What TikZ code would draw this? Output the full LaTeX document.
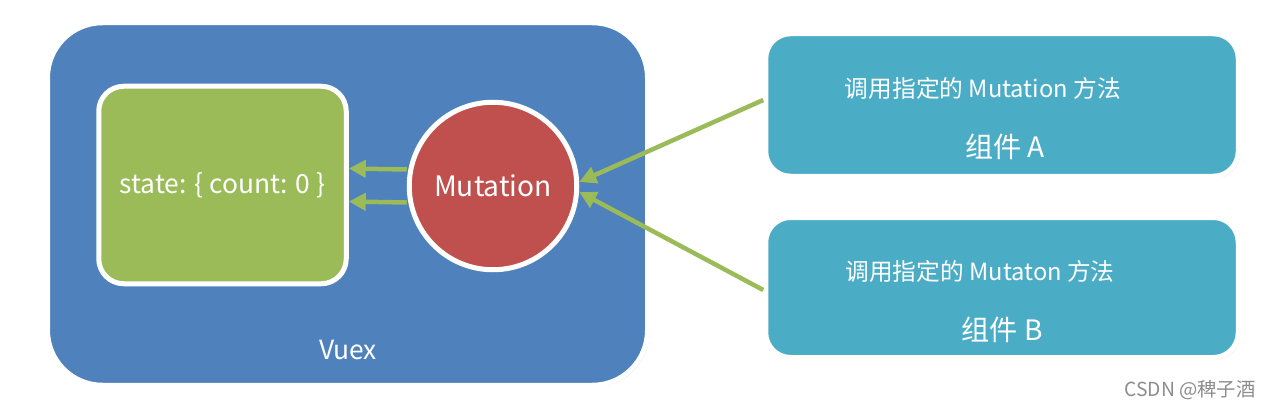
\documentclass[tikz,border=0pt]{standalone}
\usepackage{fontspec}
\setmainfont{Noto Sans CJK SC}
\usepackage{tikz}
\usetikzlibrary{arrows.meta,shadows}
\usepackage{xcolor}

\definecolor{vuexblue}{HTML}{4F81BD}
\definecolor{stategreen}{HTML}{9BBB59}
\definecolor{mutred}{HTML}{C0504D}
\definecolor{compcyan}{HTML}{4BACC6}

\tikzset{
  panel/.style={draw=white, line width=0.1cm, rounded corners=#1,
    drop shadow={shadow xshift=0.04cm, shadow yshift=-0.04cm, opacity=0.25}},
  wtext/.style={text=white, inner sep=0pt},
  callarrow/.style={draw=stategreen, line width=0.09cm, -{Triangle[length=0.34cm,width=0.34cm]}}
}

\begin{document}
\begin{tikzpicture}
  \useasboundingbox (0,0) rectangle (25.22,8.22);

  % Vuex container
  \node[panel=1.1cm, fill=vuexblue, minimum width=12.0cm, minimum height=7.25cm]
    (vuex) at (6.95,4.14) {};
  \node[wtext, font=\fontsize{15}{18}\selectfont] (vuexlbl) at (6.96,1.22) {Vuex};

  % state box
  \node[panel=0.5cm, fill=stategreen, minimum width=4.95cm, minimum height=3.95cm,
    wtext, font=\fontsize{15}{18}\selectfont] (state) at (4.45,4.52) {state: \{ count: 0 \}};

  % Mutation circle
  \node[circle, draw=white, line width=0.1cm, fill=mutred, minimum size=3.35cm,
    wtext, font=\fontsize{16}{19}\selectfont,
    drop shadow={shadow xshift=0.04cm, shadow yshift=-0.04cm, opacity=0.25}]
    (mut) at (9.86,4.5) {Mutation};

  % Component A
  \node[panel=0.5cm, fill=compcyan, minimum width=9.45cm, minimum height=2.85cm] (compA) at (20.04,6.12) {};
  \node[wtext, font=\fontsize{13.5}{16}\selectfont] (callA) at (19.66,6.46) {调用指定的 Mutation 方法};
  \node[wtext, font=\fontsize{16}{19}\selectfont] (nameA) at (20.1,5.28) {组件 A};

  % Component B
  \node[panel=0.5cm, fill=compcyan, minimum width=9.45cm, minimum height=2.8cm] (compB) at (20.04,2.47) {};
  \node[wtext, font=\fontsize{13.5}{16}\selectfont] (callB) at (19.6,2.8) {调用指定的 Mutaton 方法};
  \node[wtext, font=\fontsize{16}{19}\selectfont] (nameB) at (20.04,1.62) {组件 B};

  % arrows
  \draw[callarrow] ([yshift=0.33cm]mut.west) -- ([yshift=0.33cm]state.east);
  \draw[callarrow] ([yshift=-0.33cm]mut.west) -- ([yshift=-0.33cm]state.east);
  \draw[callarrow] ([yshift=0.1cm]compA.west) -- ([yshift=0.08cm]mut.east);
  \draw[callarrow] ([yshift=-0.05cm]compB.west) -- ([yshift=-0.12cm]mut.east);

  % watermark
  \node[text=black!45, inner sep=0pt, font=\fontsize{11}{13}\selectfont] (mark) at (23.8,0.42) {CSDN @稗子酒};
\end{tikzpicture}
\end{document}
